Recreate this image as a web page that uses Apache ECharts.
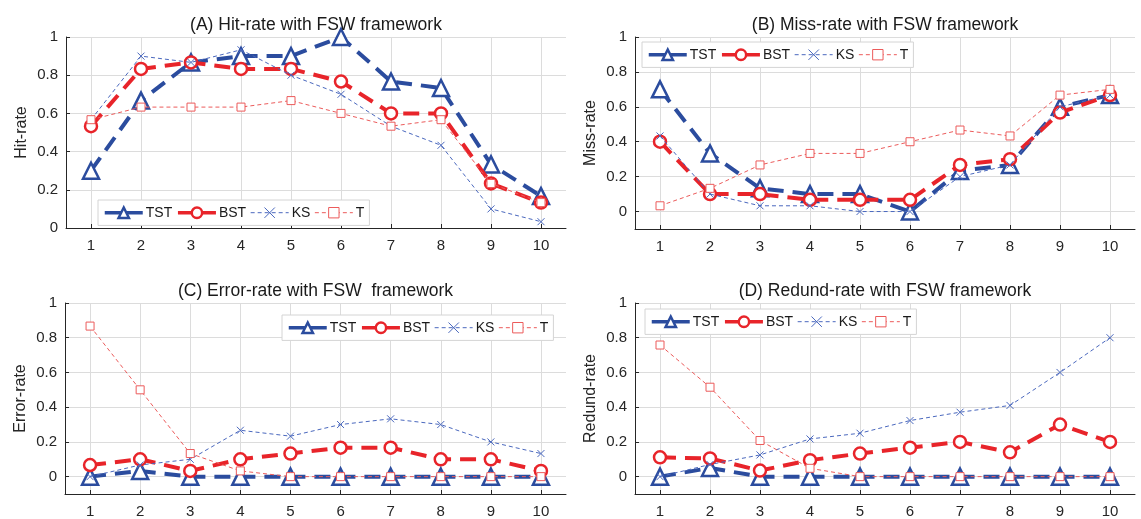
<!DOCTYPE html>
<html><head><meta charset="utf-8">
<script src="https://cdn.jsdelivr.net/npm/echarts@6/dist/echarts.min.js"></script>
<style>html,body{margin:0;padding:0;background:#fff}#c{width:1141px;height:519px}</style>
</head><body><div id="c"></div>
<script>
const xValues = [1,2,3,4,5,6,7,8,9,10];
const seriesNames = ['TST','BST','KS','T'];
const yTicks = [0,0.2,0.4,0.6,0.8,1];

const hitTST = [0.3,0.667,0.867,0.9,0.9,1.0,0.767,0.733,0.333,0.167];
const hitBST = [0.533,0.833,0.867,0.833,0.833,0.767,0.6,0.6,0.233,0.133];
const hitKS  = [0.567,0.9,0.867,0.933,0.8,0.7,0.533,0.433,0.1,0.033];
const hitT   = [0.567,0.633,0.633,0.633,0.667,0.6,0.533,0.567,0.233,0.133];

const missTST = [0.7,0.333,0.133,0.1,0.1,0.0,0.233,0.267,0.6,0.667];
const missBST = [0.4,0.1,0.1,0.067,0.067,0.067,0.267,0.3,0.567,0.667];
const missKS  = [0.433,0.1,0.033,0.033,0.0,0.0,0.2,0.267,0.6,0.667];
const missT   = [0.033,0.133,0.267,0.333,0.333,0.4,0.467,0.433,0.667,0.7];

const errTST = [0,0.033,0,0,0,0,0,0,0,0];
const errBST = [0.067,0.1,0.033,0.1,0.133,0.167,0.167,0.1,0.1,0.033];
const errKS  = [0,0.067,0.1,0.267,0.233,0.3,0.333,0.3,0.2,0.133];
const errT   = [0.867,0.5,0.133,0.033,0,0,0,0,0,0];

const redTST = [0,0.05,0,0,0,0,0,0,0,0];
const redBST = [0.111,0.105,0.035,0.095,0.133,0.167,0.2,0.14,0.3,0.2];
const redKS  = [0,0.07,0.125,0.217,0.25,0.323,0.371,0.41,0.6,0.8];
const redT   = [0.758,0.515,0.208,0.048,0,0,0,0,0,0];

const panelTitles = ['(A) Hit-rate with FSW framework','(B) Miss-rate with FSW framework','(C) Error-rate with FSW  framework','(D) Redund-rate with FSW framework'];
const yNames = ['Hit-rate','Miss-rate','Error-rate','Redund-rate'];
const yMins = [0,-0.1,-0.1,-0.1];
const panelData = [
  [hitTST,hitBST,hitKS,hitT],
  [missTST,missBST,missKS,missT],
  [errTST,errBST,errKS,errT],
  [redTST,redBST,redKS,redT]
];

const FONT = 'Liberation Sans, Arial, sans-serif';
const grids = [
  {left:66, top:37, width:500, height:191},
  {left:635, top:37, width:500, height:192},
  {left:65, top:303, width:501, height:191},
  {left:635, top:303, width:500, height:191}
];
const titleY = [16, 16, 282, 282];
const legendPos = [
  {left:98, top:200},
  {left:642, top:42},
  {left:282, top:315},
  {left:645, top:309}
];

const styles = [
  {color:'#2b4c9e', width:4, dash:[16,9], symbol:'triangle', size:16, fill:'#ffffff', bw:2.5, legDash:'solid', legW:3.5},
  {color:'#e8242a', width:4, dash:[16,9], symbol:'circle', size:12, fill:'#ffffff', bw:2.5, legDash:'solid', legW:3.5},
  {color:'#4a68be', width:1, dash:[4,3], symbol:'path://M0,0L10,10M10,0L0,10', size:7, fill:'none', bw:1, legDash:[4,3], legW:1},
  {color:'#ec5b5b', width:1, dash:[4,3], symbol:'rect', size:8, fill:'#ffffff', bw:1, legDash:[4,3], legW:1}
];

const option = {
  animation:false,
  backgroundColor:'#ffffff',
  textStyle:{fontFamily:FONT},
  grid: grids.map(g => Object.assign({containLabel:false}, g)),
  title: panelTitles.map((t,i) => ({
    text:t, left: grids[i].left + grids[i].width/2, top: titleY[i], textAlign:'center',
    textStyle:{fontFamily:FONT, fontSize:17.5, fontWeight:'normal', color:'#1a1a1a'}, padding:0
  })),
  legend: legendPos.map(p => ({
    data: seriesNames.map((n,si) => ({
      name:n,
      lineStyle:{color:styles[si].color, width:styles[si].legW, type:styles[si].legDash},
      itemStyle:{color:styles[si].fill, borderColor:styles[si].color, borderWidth:styles[si].bw}
    })),
    left:p.left, top:p.top, orient:'horizontal',
    itemWidth:38, itemHeight:13, itemGap:4,
    backgroundColor:'#ffffff', borderColor:'#d4d4d4', borderWidth:1, borderRadius:0,
    padding:[5,5],
    textStyle:{fontFamily:FONT, fontSize:14, color:'#1a1a1a', padding:[0,0,0,-2]},
    selectedMode:false
  })),
  xAxis: grids.map((g,i) => ({
    gridIndex:i, type:'value', min:0.5, max:10.5,
    axisLine:{show:true, onZero:false, lineStyle:{color:'#262626', width:1}},
    axisTick:{show:true, inside:true, length:4, customValues:xValues, lineStyle:{color:'#262626'}},
    axisLabel:{customValues:xValues, fontFamily:FONT, fontSize:15, color:'#262626', margin:10},
    splitLine:{show:true, lineStyle:{color:'#dcdcdc', width:1}}
  })),
  yAxis: grids.map((g,i) => ({
    gridIndex:i, type:'value', min:yMins[i], max:1,
    name: yNames[i], nameLocation:'middle', nameGap:36, nameRotate:90,
    nameTextStyle:{fontFamily:FONT, fontSize:16, color:'#262626'},
    axisLine:{show:true, onZero:false, lineStyle:{color:'#262626', width:1}},
    axisTick:{show:true, inside:true, length:4, customValues:yTicks, lineStyle:{color:'#262626'}},
    axisLabel:{customValues:yTicks, fontFamily:FONT, fontSize:15, color:'#262626', margin:8,
      formatter: v => String(+v.toFixed(1))},
    splitLine:{show:true, lineStyle:{color:'#dcdcdc', width:1}}
  })),
  series: []
};

panelData.forEach((arrs, pi) => {
  arrs.forEach((vals, si) => {
    const s = styles[si];
    option.series.push({
      name: seriesNames[si], type:'line', xAxisIndex:pi, yAxisIndex:pi,
      data: xValues.map((x,k) => [x, vals[k]]),
      symbol: s.symbol, symbolSize: s.size, showSymbol:true,
      lineStyle:{color:s.color, width:s.width, type:s.dash},
      itemStyle:{color:s.fill, borderColor:s.color, borderWidth:s.bw},
      emphasis:{disabled:true},
      z: 2 + si
    });
  });
});

const chart = echarts.init(document.getElementById('c'), null, {renderer:'canvas'});
chart.setOption(option);
</script>
</body></html>
